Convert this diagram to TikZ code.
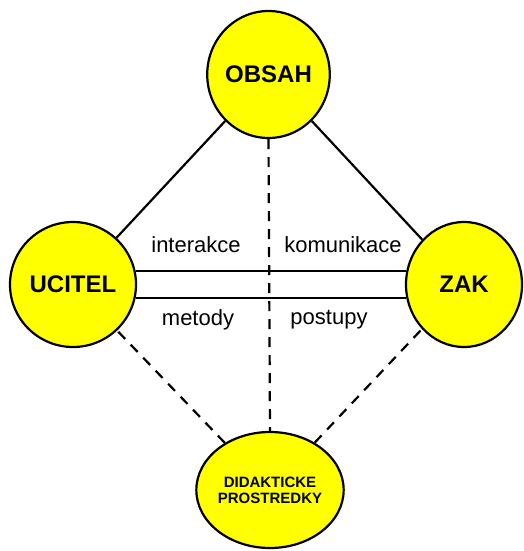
\documentclass[tikz,border=0pt]{standalone}
\usepackage{fontspec}
\setmainfont{Liberation Sans}
\usetikzlibrary{shapes.geometric,calc}
\definecolor{yel}{RGB}{255,255,0}
\tikzset{
  bubble/.style={ellipse, draw=black, fill=yel, line width=2.2pt, inner sep=0pt,
    font=\fontsize{24}{26}\selectfont\bfseries},
  edge/.style={line width=2.2pt, black},
  dedge/.style={line width=2.2pt, black, dash pattern=on 10pt off 8pt},
  lbl/.style={font=\fontsize{22}{24}\selectfont, inner sep=0pt}
}
\begin{document}
\begin{tikzpicture}[x=1pt,y=-1pt]
\useasboundingbox (0,0) rectangle (523,551);
\node[bubble, minimum width=121pt, minimum height=127pt] (obsah) at (268.5,74.5) {OBSAH};
\node[bubble, minimum width=126pt, minimum height=125pt] (ucitel) at (73,284.5) {UCITEL};
\node[bubble, minimum width=116pt, minimum height=125pt] (zak) at (464,284.5) {ZAK};
\node[bubble, minimum width=124pt, minimum height=116pt, align=center,
  font=\fontsize{15}{16}\selectfont\bfseries] (didak) at (270,490) {DIDAKTICKE\\PROSTREDKY};
\draw[edge] (obsah) -- (ucitel);
\draw[edge] (obsah) -- (zak);
\draw[dedge] (didak) -- (ucitel);
\draw[dedge] (didak) -- (zak);
\draw[dedge] (obsah.south) -- (didak.north);
\draw[edge] (ucitel.12) -- (ucitel.12 -| zak.168);
\draw[edge] (ucitel.-12) -- (ucitel.-12 -| zak.192);
\node[lbl] (t1) at (196,245) {interakce};
\node[lbl] (t2) at (343,245) {komunikace};
\node[lbl] (t3) at (198,320) {metody};
\node[lbl] (t4) at (329,320) {postupy};
\end{tikzpicture}
\end{document}
